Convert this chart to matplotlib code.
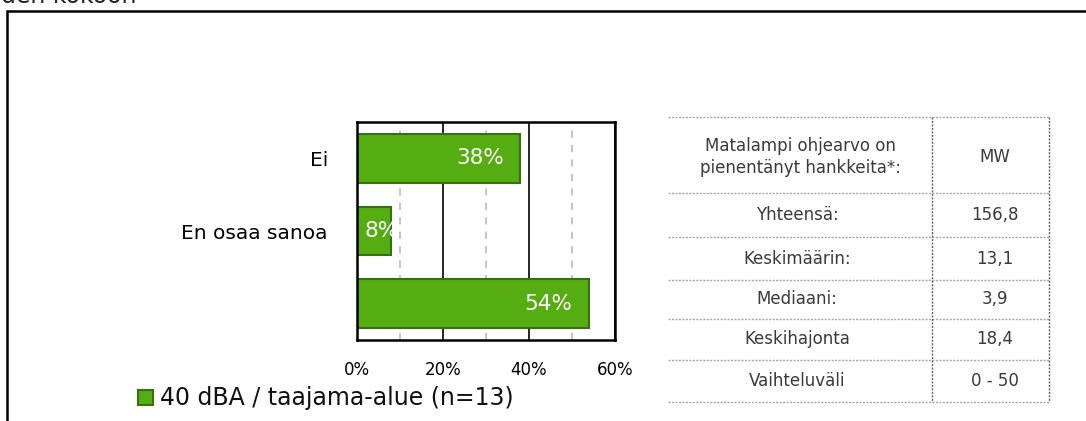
import matplotlib.pyplot as plt
from matplotlib.patches import Rectangle

# survey answers, share of respondents (%)
categories = ["Ei", "En osaa sanoa", ""]
shares = [38, 8, 54]
series_name = "40 dBA / taajama-alue (n=13)"
x_ticks = [0, 20, 40, 60]

# summary table (MW)
table_header = "Matalampi ohjearvo on\npienentänyt hankkeita*:"
table_unit = "MW"
table_labels = ["Yhteensä:", "Keskimäärin:", "Mediaani:", "Keskihajonta", "Vaihteluväli"]
table_values = ["156,8", "13,1", "3,9", "18,4", "0 - 50"]

W, H = 1086, 421
green = "#56ad12"
green_edge = "#3a6e12"

fig = plt.figure(figsize=(W / 100, H / 100), dpi=100)

# pixel-space canvas for frame, table and legend
bg = fig.add_axes([0, 0, 1, 1])
bg.set_xlim(0, W)
bg.set_ylim(H, 0)
bg.axis("off")

bg.text(1, 3, "den kokoon", fontsize=17, ha="left", va="baseline", color="#222222")
bg.plot([7, 7, W], [H, 11, 11], color="black", lw=1.8, solid_joinstyle="miter")

# bar chart
def px_axes(left, top, right, bottom):
    return fig.add_axes([left / W, 1 - bottom / H, (right - left) / W, (bottom - top) / H])

ax = px_axes(357, 122, 615, 340)
ypos = list(range(len(categories)))
bars = ax.barh(ypos, shares, height=0.67, color=green, edgecolor=green_edge, lw=1.5, zorder=3)
ax.set_xlim(0, 60)
ax.set_ylim(len(categories) - 0.5, -0.5)
ax.set_xticks(x_ticks)
ax.set_xticklabels([f"{t}%" for t in x_ticks], fontsize=12)
ax.set_xticks([10, 30, 50], minor=True)
ax.set_yticks(ypos)
ax.set_yticklabels(categories, fontsize=14.5)
ax.tick_params(axis="x", which="both", length=0, pad=15)
ax.tick_params(axis="y", length=0, pad=21)
ax.grid(axis="x", which="major", color="black", lw=1.2, zorder=1)
ax.grid(axis="x", which="minor", color="#bfbfbf", lw=1.3, ls=(0, (4, 4)), zorder=1)
ax.set_axisbelow(True)
for sp in ax.spines.values():
    sp.set_linewidth(1.8)
    sp.set_zorder(4)

for y, v in zip(ypos, shares):
    if v >= 15:
        ax.annotate(f"{v}%", (v, y), xytext=(-12, 0), textcoords="offset points",
                    ha="right", va="center", color="white", fontsize=15.5, zorder=5)
    else:
        ax.annotate(f"{v}%", (0, y), xytext=(5.5, 0), textcoords="offset points",
                    ha="left", va="center", color="white", fontsize=15.5, zorder=5)

# legend
bg.add_patch(Rectangle((138, 390), 15, 15, facecolor=green, edgecolor=green_edge, lw=1.5))
bg.text(160, 405, series_name, fontsize=17, ha="left", va="baseline", color="#111111")

# table
row_lines = [117, 193, 237, 280, 319, 360, 402]
bg.hlines(row_lines, 668, 1049, color="#a8a8a8", lw=1.0, ls=(0, (1.5, 1)))
bg.vlines([932, 1049], 117, 402, color="#606060", lw=1.0, ls=(0, (1.5, 1)))

tcol = "#3a3a3a"
bg.text(800, 157, table_header, fontsize=12, ha="center", va="center", color=tcol, linespacing=1.25)
bg.text(995, 157, table_unit, fontsize=12, ha="center", va="center", color=tcol)
for i, (lab, val) in enumerate(zip(table_labels, table_values)):
    yc = (row_lines[i + 1] + row_lines[i + 2]) / 2
    bg.text(797, yc, lab, fontsize=12, ha="center", va="center", color=tcol)
    bg.text(995, yc, val, fontsize=12, ha="center", va="center", color=tcol)

fig.savefig("out.png", dpi=100)
